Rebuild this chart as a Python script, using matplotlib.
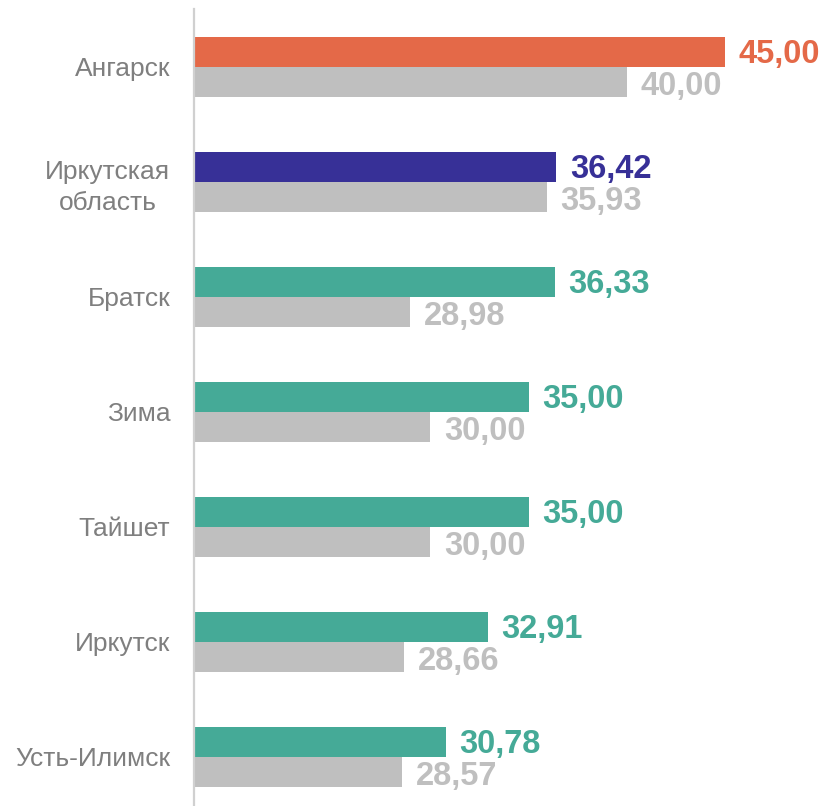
import matplotlib.pyplot as plt
import numpy as np

plt.rcParams["font.family"] = ["Liberation Sans", "DejaVu Sans"]

categories = ["Ангарск", "Иркутская\nобласть", "Братск", "Зима", "Тайшет", "Иркутск", "Усть-Илимск"]
current = [45.00, 36.42, 36.33, 35.00, 35.00, 32.91, 30.78]
previous = [40.00, 35.93, 28.98, 30.00, 30.00, 28.66, 28.57]
bar_colors = ["#E46948", "#373097", "#45AA97", "#45AA97", "#45AA97", "#45AA97", "#45AA97"]
gray = "#BFBFBF"


def fmt(v):
    return f"{v:.2f}".replace(".", ",")


def main():
    fig = plt.figure(figsize=(8.25, 8.06), dpi=100)
    ax = fig.add_axes([194 / 825, 0.0, 631 / 825, 1 - 9 / 806])

    y = np.arange(len(categories))
    h = 30 / 115
    ax.barh(y - h / 2, current, height=h, color=bar_colors, left=0)
    ax.barh(y + h / 2, previous, height=h, color=gray, left=0)

    xmin, xmax = 17.96, 50.1
    ax.set_xlim(xmin, xmax)
    ax.set_ylim(6 + 49 / 115, -58 / 115)

    dx = 0.7
    for i in range(len(categories)):
        ax.text(current[i] + dx, y[i] - h / 2 + 0.025, fmt(current[i]), color=bar_colors[i],
                fontsize=23.5, fontweight="bold", va="center", ha="left")
        ax.text(previous[i] + dx, y[i] + h / 2 + 0.035, fmt(previous[i]), color=gray,
                fontsize=23.5, fontweight="bold", va="center", ha="left")

    ax.set_yticks(y)
    ax.set_yticklabels(categories, fontsize=19, color="#7F7F7F")
    for lbl in ax.get_yticklabels():
        lbl.set_multialignment("center")
        lbl.set_linespacing(1.35)
    ax.tick_params(axis="y", length=0, pad=17)
    ax.set_xticks([])

    for s in ["top", "right", "bottom"]:
        ax.spines[s].set_visible(False)
    ax.spines["left"].set_color("#D0D0D0")
    ax.spines["left"].set_linewidth(1.6)

    fig.savefig("out.png", dpi=100)


if __name__ == "__main__":
    main()
